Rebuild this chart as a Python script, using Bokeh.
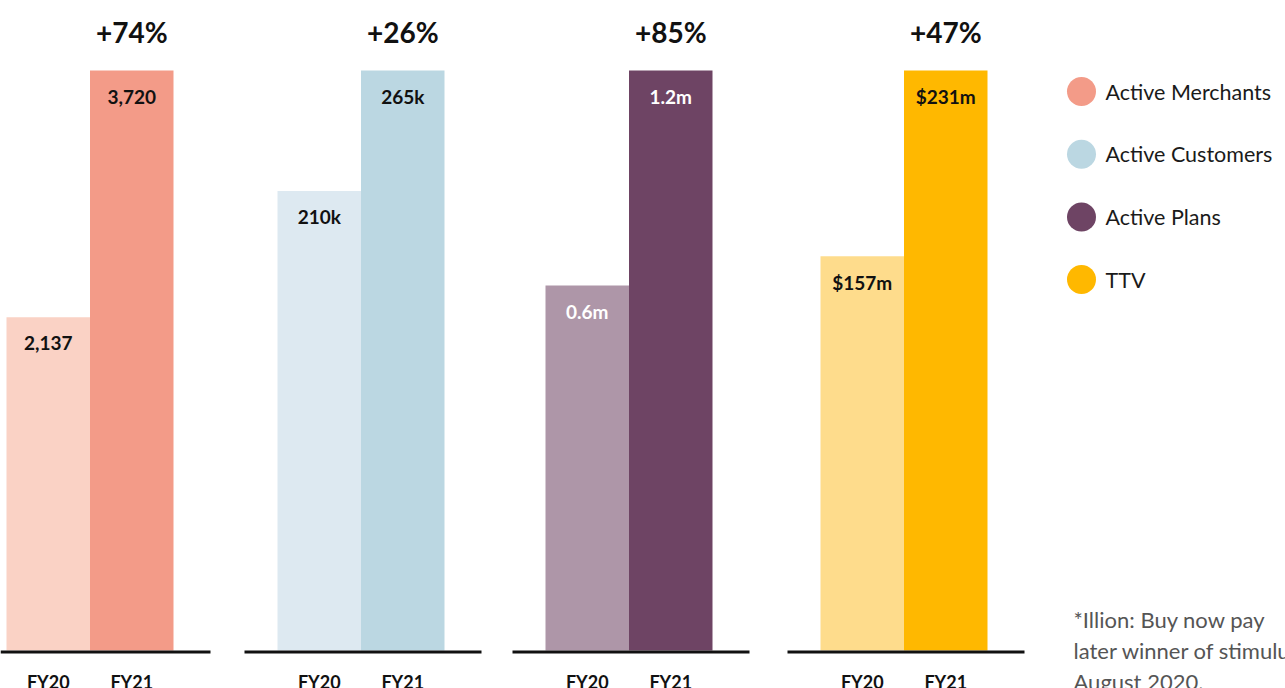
from bokeh.plotting import figure
from bokeh.models import Range1d
from bokeh.embed import file_html
from bokeh.resources import INLINE
from bokeh.core.properties import value

# ---------------- data ----------------
metrics = ["Active Merchants", "Active Customers", "Active Plans", "TTV"]
years = ["FY20", "FY21"]
merchants = [2137, 3720]
customers = [210, 265]          # thousands
plans = [0.755, 1.2]            # millions (FY20 bar height as drawn in the source)
ttv = [157, 231]                # $ millions
merchants_labels = ["2,137", "3,720"]
customers_labels = ["210k", "265k"]
plans_labels = ["0.6m", "1.2m"]
ttv_labels = ["$157m", "$231m"]
growth_labels = ["+74%", "+26%", "+85%", "+47%"]
footnote = ["*Illion: Buy now pay", "later winner of stimulus", "August 2020."]

series = [merchants, customers, plans, ttv]
series_labels = [merchants_labels, customers_labels, plans_labels, ttv_labels]
colors_fy20 = ["#FAD2C5", "#DDE9F1", "#AE96A8", "#FEDC8C"]
colors_fy21 = ["#F39B88", "#BBD7E2", "#6E4464", "#FFB800"]
value_text_colors = ["#111111", "#111111", "#FFFFFF", "#111111"]

# ---------------- layout constants ----------------
W, H = 1285, 688
BASE = 38          # px from bottom to bar bottoms
BAR_PX = 580       # px height of the tallest bar of each group
BAR_W = 83.5
GROUP_LEFT = [6, 277, 545, 820]
FONT = value("Lato")

p = figure(width=W, height=H, x_range=Range1d(0, W), y_range=Range1d(0, H),
           min_border=0, toolbar_location=None, output_backend="svg",
           outline_line_color=None, background_fill_color="white")
p.axis.visible = False
p.grid.visible = False

extra = {}
for i, vals in enumerate(series):
    m = max(vals)
    extra[f"g{i}"] = Range1d(-BASE * m / BAR_PX, (H - BASE) * m / BAR_PX)
p.extra_y_ranges = extra

for i, vals in enumerate(series):
    name = f"g{i}"
    m = max(vals)
    left = GROUP_LEFT[i]
    xs = [left + BAR_W / 2, left + BAR_W * 1.5]
    p.vbar(x=xs, top=vals, bottom=0, width=BAR_W,
           fill_color=[colors_fy20[i], colors_fy21[i]], line_color=None,
           y_range_name=name)
    # value labels inside bar tops
    p.text(x=xs, y=[v - 26 * m / BAR_PX for v in vals], text=series_labels[i],
           y_range_name=name, text_align="center", text_baseline="middle",
           text_font=FONT, text_font_style="bold", text_font_size="19px",
           text_color=value_text_colors[i])
    # baseline
    p.segment(x0=[max(left - 33, 0)], x1=[left + 2 * BAR_W + 37],
              y0=[BASE - 1.5], y1=[BASE - 1.5], line_color="#111111", line_width=3)
    # growth label above FY21 bar
    p.text(x=[xs[1]], y=[H - 31], text=[growth_labels[i]], text_align="center",
           text_baseline="middle", text_font=FONT, text_font_style="bold",
           text_font_size="28px", text_color="#111111")
    # year labels
    p.text(x=xs, y=[H - 681, H - 681], text=years, text_align="center",
           text_baseline="middle", text_font=FONT, text_font_style="bold",
           text_font_size="18px", text_color="#111111")

# legend
leg_y = [H - 91 - 62.7 * k for k in range(len(metrics))]
p.scatter(x=[1081] * len(metrics), y=leg_y, size=29, marker="circle",
          fill_color=colors_fy21, line_color=None)
p.text(x=[1105] * len(metrics), y=leg_y, text=metrics, text_align="left",
       text_baseline="middle", text_font=FONT, text_font_size="21.5px",
       text_color="#1a1a1a")

# footnote
p.text(x=[1073] * len(footnote), y=[H - 619 - 31 * k for k in range(len(footnote))],
       text=footnote, text_align="left", text_baseline="middle", text_font=FONT,
       text_font_size="22px", text_color="#555555")

open("out.html", "w").write(file_html(p, INLINE))
